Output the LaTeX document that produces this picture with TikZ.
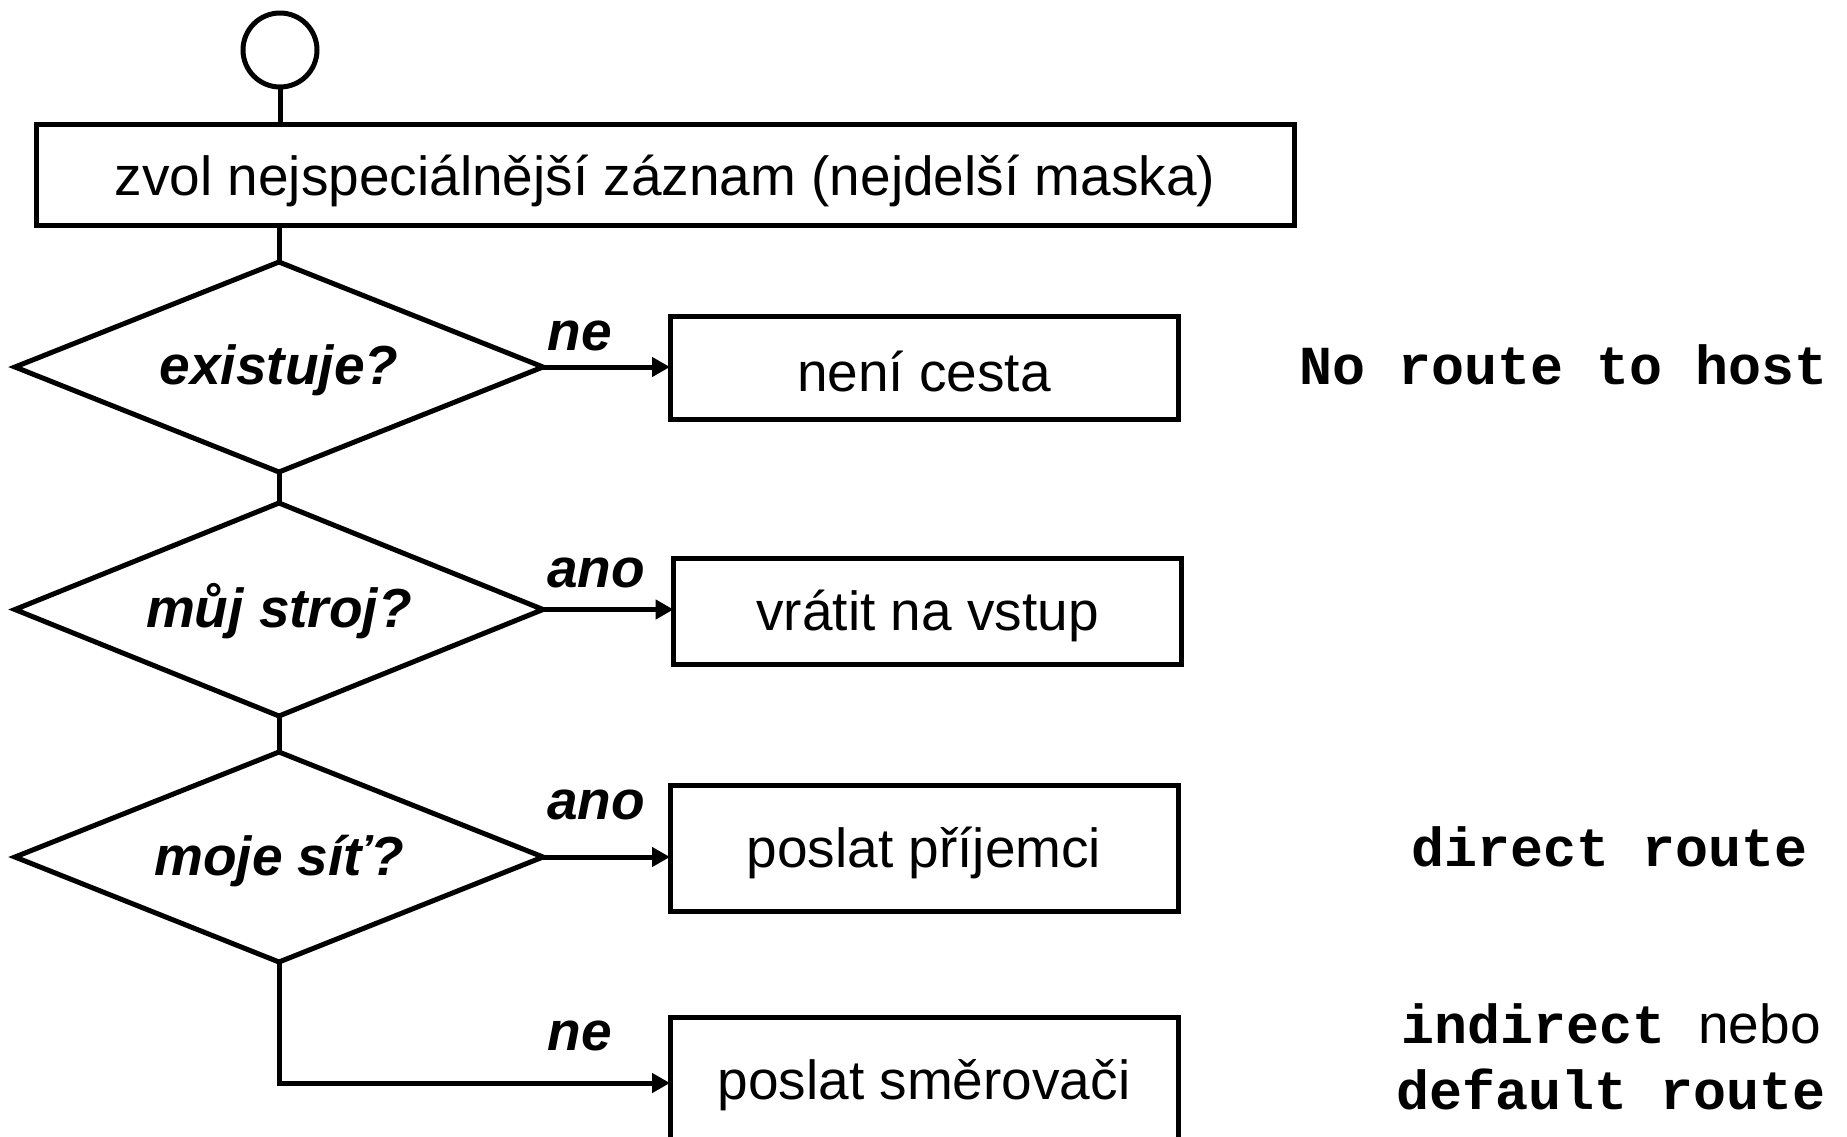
\documentclass[tikz,border=0pt]{standalone}
\usepackage{fontspec}
\setmainfont{Liberation Sans}
\setmonofont{Liberation Mono}
\usetikzlibrary{shapes.geometric,arrows.meta}
\newcommand{\dropby}[2]{\raisebox{-#1}[\height][\depth]{#2}}
\begin{document}
\begin{tikzpicture}[x=0.5pt,y=-0.5pt,
  every node/.style={font=\fontsize{27.5}{33}\selectfont},
  line/.style={line width=2.5pt},
  box/.style={draw,line width=2.5pt,rectangle,inner sep=0pt,outer sep=0pt,minimum width=254pt},
  decision/.style={draw,line width=2.5pt,diamond,aspect=2.5,inner sep=0pt,outer sep=0pt,
    minimum width=264pt,minimum height=105pt,font=\fontsize{27.5}{33}\selectfont\bfseries\itshape},
  lbl/.style={anchor=base west,inner sep=0pt,font=\fontsize{27.5}{33}\selectfont\bfseries\itshape},
  note/.style={inner sep=0pt,font=\fontsize{27.5}{33}\selectfont\ttfamily\bfseries},
  arr/.style={line width=2.5pt,-{Triangle[length=9pt,width=9.5pt]}}
]
\useasboundingbox (0,0) rectangle (1847,1136);
\clip (0,0) rectangle (1847,1136);
\node[circle,draw,line width=2.5pt,minimum size=37pt,inner sep=0pt,outer sep=0pt] (start) at (280,50) {};
\node[box,minimum width=629pt,minimum height=50.5pt] (choose) at (665,174.5) {\dropby{3pt}{zvol nejspeciálnější záznam (nejdelší maska)}};
\node[decision] (d1) at (279,367) {\dropby{1.5pt}{existuje?}};
\node[decision,minimum height=106.5pt] (d2) at (279,609.5) {\dropby{1pt}{můj stroj?}};
\node[decision] (d3) at (279,857) {\dropby{2pt}{moje síť?}};
\node[box,minimum height=51.5pt] (b1) at (924,367.5) {\dropby{2pt}{není cesta}};
\node[box,minimum height=53pt] (b2) at (927.5,611) {\dropby{2.5pt}{vrátit na vstup}};
\node[box,minimum height=63pt] (b3) at (924,848) {\dropby{2.5pt}{poslat příjemci}};
\node[box,minimum height=63pt] (b4) at (924,1080) {\dropby{2.5pt}{poslat směrovači}};
\draw[line] (start.south) -- (start.south |- choose.north);
\draw[line] (choose.south -| d1.north) -- (d1.north);
\draw[line] (d1.south) -- (d2.north);
\draw[line] (d2.south) -- (d3.north);
\draw[arr] (d1.east) -- (d1.east -| b1.west);
\draw[arr] (d2.east) -- (d2.east -| b2.west);
\draw[arr] (d3.east) -- (d3.east -| b3.west);
\coordinate (bend) at (279,1083);
\draw[arr] (d3.south) -- (bend) -- (bend -| b4.west);
\node[lbl] (l1) at (547,350) {ne};
\node[lbl] (l2) at (547,587) {ano};
\node[lbl] (l3) at (547,819) {ano};
\node[lbl] (l4) at (547,1050) {ne};
\node[note] (n1) at (1564,365) {No route to host};
\node[note] (n2) at (1610,847) {direct route};
\node[note,align=center] (n3) at (1611,1057) {indirect {\rmfamily\mdseries nebo}\\default route};
\end{tikzpicture}
\end{document}
